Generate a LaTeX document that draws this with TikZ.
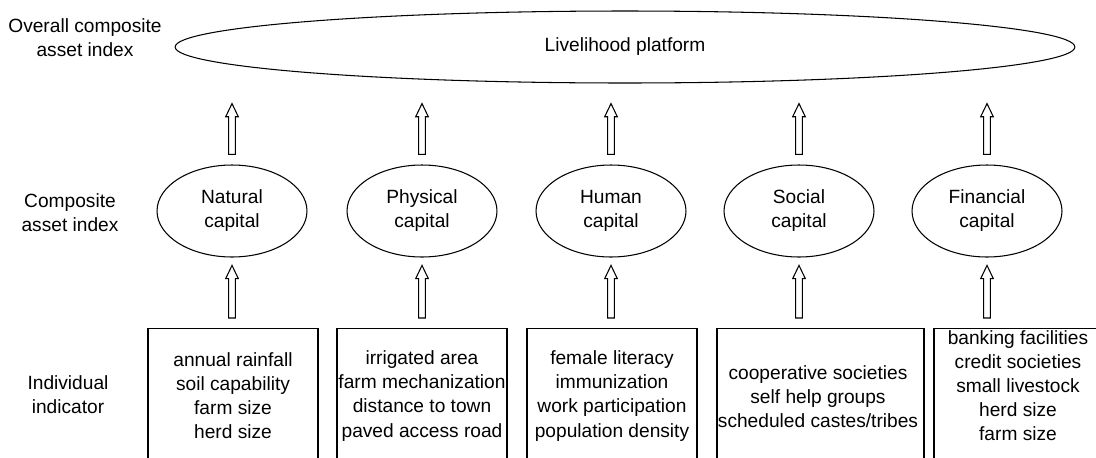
\documentclass[tikz,border=0pt]{standalone}
\usepackage{fontspec}
\setmainfont{Liberation Sans}
\usetikzlibrary{calc, shapes.geometric}

\begin{document}
\begin{tikzpicture}[
        x=0.02cm, y=-0.02cm,
        font=\fontsize{10.9}{13.7}\selectfont,
        capital/.style={ellipse, draw, line width=0.6pt, minimum width=3cm, minimum height=1.84cm, inner sep=0pt, align=center},
        indbox/.style={draw, line width=0.8pt, anchor=north, minimum height=3cm, inner sep=0pt},
        indtext/.style={align=center, inner sep=0pt},
        rowlabel/.style={align=center, inner sep=0pt},
        uparrow/.style 2 args={line width=0.6pt, to path={let \p1=(\tikztostart), \p2=(\tikztotarget), \n1={\y1+#1}, \n2={\y2-#2} in
            (\x2-1.9pt,\n1) -- (\x2-1.9pt,\n2-7.5pt) -- (\x2-3.6pt,\n2-7.5pt) -- (\x2,\n2)
            -- (\x2+3.6pt,\n2-7.5pt) -- (\x2+1.9pt,\n2-7.5pt) -- (\x2+1.9pt,\n1) -- cycle}},
        ]

    \useasboundingbox (0,0) rectangle (1096,457);
    \clip (0,0) rectangle (1096,457);

    % row labels
    \node (L1) at (85,38) [rowlabel] {Overall composite\\asset index};
    \node (L2) at (70,213) [rowlabel] {Composite\\asset index};
    \node (L3) at (68,395) [rowlabel] {Individual\\indicator};

    \node (LP) at (625,47) [ellipse, draw, line width=0.6pt, minimum width=18cm, minimum height=1.44cm, inner sep=0pt] {Livelihood platform};

    \node (NC) at (232,211) [capital] {Natural\\capital};
    \node (PC) at (422,211) [capital] {Physical\\capital};
    \node (HC) at (611,211) [capital] {Human\\capital};
    \node (SC) at (799,211) [capital] {Social\\capital};
    \node (FC) at (987,211) [capital] {Financial\\capital};

    \node (NB) at (233,328) [indbox, minimum width=3.4cm] {};
    \node (PB) at (422,328) [indbox, minimum width=3.4cm] {};
    \node (HB) at (612,328) [indbox, minimum width=3.4cm] {};
    \node (SB) at (820.5,328) [indbox, minimum width=4.14cm] {};
    \node (FB) at (1017,328) [indbox, minimum width=3.32cm] {};

    \node (NI) at (233,396) [indtext] {annual rainfall\\soil capability\\farm size\\herd size};
    \node (PI) at (422,396) [indtext] {irrigated area\\farm mechanization\\distance to town\\paved access road};
    \node (HI) at (612,396) [indtext] {female literacy\\immunization\\work participation\\population density};
    \node (SI) at (818,397) [indtext] {cooperative societies\\self help groups\\scheduled castes/tribes};
    \node (FI) at (1018,386) [indtext] {banking facilities\\credit societies\\small livestock\\herd size\\farm size};

    % indicators up to capitals
    \draw [uparrow={5.7pt}{4.5pt}] (NB.north) to (NC.south);
    \draw [uparrow={5.7pt}{4.5pt}] (PB.north) to (PC.south);
    \draw [uparrow={5.7pt}{4.5pt}] (HB.north) to (HC.south);
    \draw [uparrow={5.7pt}{4.5pt}] (SB.north) to (SC.south);
    \draw [uparrow={5.7pt}{4.5pt}] (FB.north) to (FC.south);

    % capitals up to the platform
    \draw [uparrow={5.7pt}{11.4pt}] (NC.north) to (NC |- LP.south);
    \draw [uparrow={5.7pt}{11.4pt}] (PC.north) to (PC |- LP.south);
    \draw [uparrow={5.7pt}{11.4pt}] (HC.north) to (HC |- LP.south);
    \draw [uparrow={5.7pt}{11.4pt}] (SC.north) to (SC |- LP.south);
    \draw [uparrow={5.7pt}{11.4pt}] (FC.north) to (FC |- LP.south);
\end{tikzpicture}
\end{document}
